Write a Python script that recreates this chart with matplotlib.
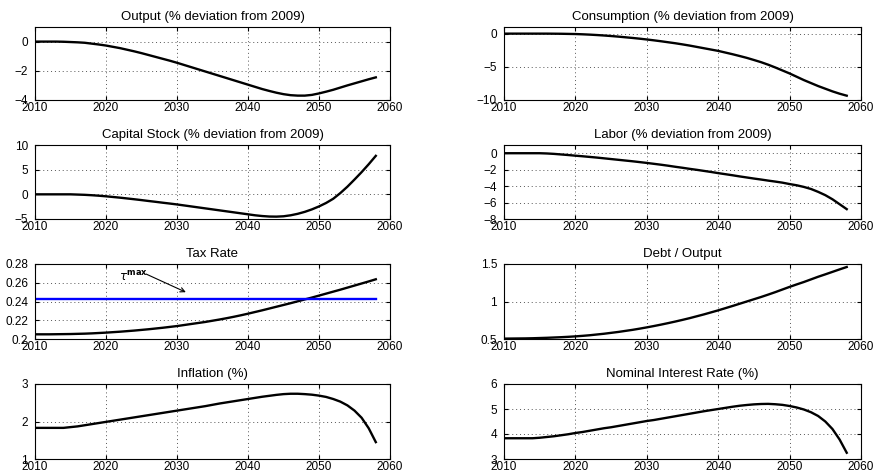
import numpy as np
import matplotlib
matplotlib.use("Agg")
import matplotlib.pyplot as plt
from matplotlib.ticker import FuncFormatter

plt.rcParams["font.family"] = ["Liberation Sans", "DejaVu Sans"]
plt.rcParams["font.size"] = 8

years = np.arange(2010, 2059)

output = [0, 0, 0, 0, -0.01, -0.03, -0.05, -0.08, -0.14, -0.2, -0.27,
          -0.36, -0.45, -0.56, -0.67, -0.79, -0.92, -1.05, -1.18, -1.31, -1.45,
          -1.6, -1.75, -1.9, -2.05, -2.2, -2.35, -2.5, -2.65, -2.8, -2.95,
          -3.1, -3.25, -3.38, -3.5, -3.6, -3.67, -3.7, -3.7, -3.65, -3.55,
          -3.43, -3.3, -3.15, -3.0, -2.86, -2.72, -2.58, -2.45]
consumption = [0, 0, 0, 0, 0, 0, 0, -0.01, -0.02, -0.04, -0.06,
               -0.1, -0.15, -0.21, -0.28, -0.36, -0.45, -0.55, -0.65, -0.76, -0.88,
               -1.01, -1.15, -1.3, -1.45, -1.62, -1.8, -2.0, -2.2, -2.4, -2.6,
               -2.85, -3.1, -3.37, -3.65, -3.97, -4.3, -4.68, -5.1, -5.55, -6.0,
               -6.5, -7.0, -7.45, -7.9, -8.3, -8.7, -9.05, -9.35]
capital = [0, 0, 0, 0, 0, 0, -0.05, -0.1, -0.18, -0.28, -0.4,
           -0.54, -0.68, -0.84, -1.0, -1.17, -1.35, -1.52, -1.7, -1.87, -2.05,
           -2.25, -2.45, -2.65, -2.85, -3.05, -3.25, -3.45, -3.65, -3.85, -4.05,
           -4.25, -4.4, -4.5, -4.52, -4.45, -4.25, -3.95, -3.55, -3.05, -2.45,
           -1.75, -0.9, 0.25, 1.55, 3.0, 4.5, 6.1, 7.8]
labor = [0, 0, 0, 0, 0, 0, -0.03, -0.08, -0.15, -0.22, -0.3,
         -0.37, -0.45, -0.53, -0.62, -0.71, -0.8, -0.89, -0.98, -1.08, -1.18,
         -1.29, -1.4, -1.52, -1.65, -1.77, -1.9, -2.02, -2.15, -2.28, -2.42,
         -2.55, -2.68, -2.82, -2.95, -3.08, -3.2, -3.33, -3.45, -3.58, -3.75,
         -3.9, -4.1, -4.35, -4.7, -5.1, -5.6, -6.2, -6.8]
tax_rate = [0.2050, 0.2050, 0.2050, 0.2051, 0.2052, 0.2053, 0.2055, 0.2057, 0.2060, 0.2064, 0.2068,
            0.2073, 0.2078, 0.2084, 0.2090, 0.2097, 0.2104, 0.2112, 0.2120, 0.2129, 0.2138,
            0.2149, 0.2160, 0.2171, 0.2182, 0.2195, 0.2208, 0.2222, 0.2237, 0.2253, 0.2270,
            0.2288, 0.2306, 0.2325, 0.2344, 0.2363, 0.2382, 0.2402, 0.2422, 0.2442, 0.2463,
            0.2484, 0.2505, 0.2526, 0.2548, 0.2570, 0.2592, 0.2614, 0.2637]
tau_max = 0.2425
debt_output = [0.505, 0.506, 0.507, 0.508, 0.510, 0.513, 0.516, 0.520, 0.524, 0.529, 0.535,
               0.542, 0.550, 0.560, 0.570, 0.582, 0.594, 0.608, 0.622, 0.638, 0.655,
               0.673, 0.692, 0.712, 0.733, 0.755, 0.778, 0.803, 0.828, 0.855, 0.882,
               0.911, 0.940, 0.970, 1.000, 1.030, 1.060, 1.092, 1.125, 1.160, 1.195,
               1.228, 1.260, 1.295, 1.330, 1.362, 1.395, 1.428, 1.460]
inflation = [1.83, 1.83, 1.83, 1.83, 1.83, 1.85, 1.87, 1.90, 1.93, 1.96, 1.99,
             2.02, 2.05, 2.08, 2.11, 2.14, 2.17, 2.20, 2.23, 2.26, 2.29,
             2.32, 2.35, 2.38, 2.41, 2.445, 2.48, 2.51, 2.54, 2.57, 2.60,
             2.63, 2.66, 2.685, 2.71, 2.73, 2.74, 2.74, 2.73, 2.715, 2.69,
             2.655, 2.60, 2.53, 2.43, 2.29, 2.10, 1.82, 1.45]
interest = [3.83, 3.83, 3.83, 3.83, 3.83, 3.85, 3.88, 3.91, 3.95, 3.99, 4.04,
            4.08, 4.13, 4.18, 4.23, 4.27, 4.32, 4.37, 4.42, 4.47, 4.52,
            4.56, 4.61, 4.66, 4.71, 4.76, 4.81, 4.86, 4.91, 4.955, 5.00,
            5.045, 5.09, 5.13, 5.16, 5.185, 5.20, 5.205, 5.19, 5.165, 5.12,
            5.06, 4.98, 4.87, 4.72, 4.50, 4.20, 3.78, 3.25]

panels = [
    ("Output (% deviation from 2009)", output, (-4, 1), [-4, -2, 0]),
    ("Consumption (% deviation from 2009)", consumption, (-10, 1), [-10, -5, 0]),
    ("Capital Stock (% deviation from 2009)", capital, (-5, 10), [-5, 0, 5, 10]),
    ("Labor (% deviation from 2009)", labor, (-8, 1), [-8, -6, -4, -2, 0]),
    ("Tax Rate", tax_rate, (0.2, 0.28), [0.2, 0.22, 0.24, 0.26, 0.28]),
    ("Debt / Output", debt_output, (0.5, 1.5), [0.5, 1, 1.5]),
    ("Inflation (%)", inflation, (1, 3), [1, 2, 3]),
    ("Nominal Interest Rate (%)", interest, (3, 6), [3, 4, 5, 6]),
]

W, H = 875, 474
col_x = [(35, 390), (504, 861)]
row_y = [(27, 100), (145, 219), (264, 339), (384, 459)]

fig = plt.figure(figsize=(W / 100, H / 100), dpi=100)
fmt = FuncFormatter(lambda v, p: f"{v:g}".replace("-", "\u2212"))

for i, (title, vals, ylim, yticks) in enumerate(panels):
    r, c = divmod(i, 2)
    x0, x1 = col_x[c]
    t, b = row_y[r]
    ax = fig.add_axes([x0 / W, 1 - b / H, (x1 - x0) / W, (b - t) / H])
    ax.plot(years, vals, color="k", lw=1.7)
    if title == "Tax Rate":
        ax.plot([years[0], years[-1]], [tau_max, tau_max], color="#0000ff", lw=1.7)
        ax.annotate("", xy=(2031.6, 0.2487), xytext=(2025.3, 0.2705),
                    arrowprops=dict(arrowstyle="->", color="k", lw=0.8))
        ax.text(2021.8, 0.2625, r"$\tau^{\mathbf{max}}$", fontsize=8.5)
    ax.set_xlim(2010, 2060)
    ax.set_ylim(*ylim)
    ax.set_xticks(range(2010, 2061, 10))
    ax.set_yticks(yticks)
    ax.yaxis.set_major_formatter(fmt)
    ax.tick_params(direction="in", top=True, right=True, length=3, labelsize=8.5)
    ax.tick_params(axis="x", pad=1.5)
    ax.tick_params(axis="y", pad=5)
    ax.grid(True, color="#555555", ls=(0, (1, 3)), lw=0.7)
    for s in ax.spines.values():
        s.set_linewidth(0.8)
    ax.set_title(title, fontsize=9.5, pad=5)

fig.savefig("out.png", dpi=100)
